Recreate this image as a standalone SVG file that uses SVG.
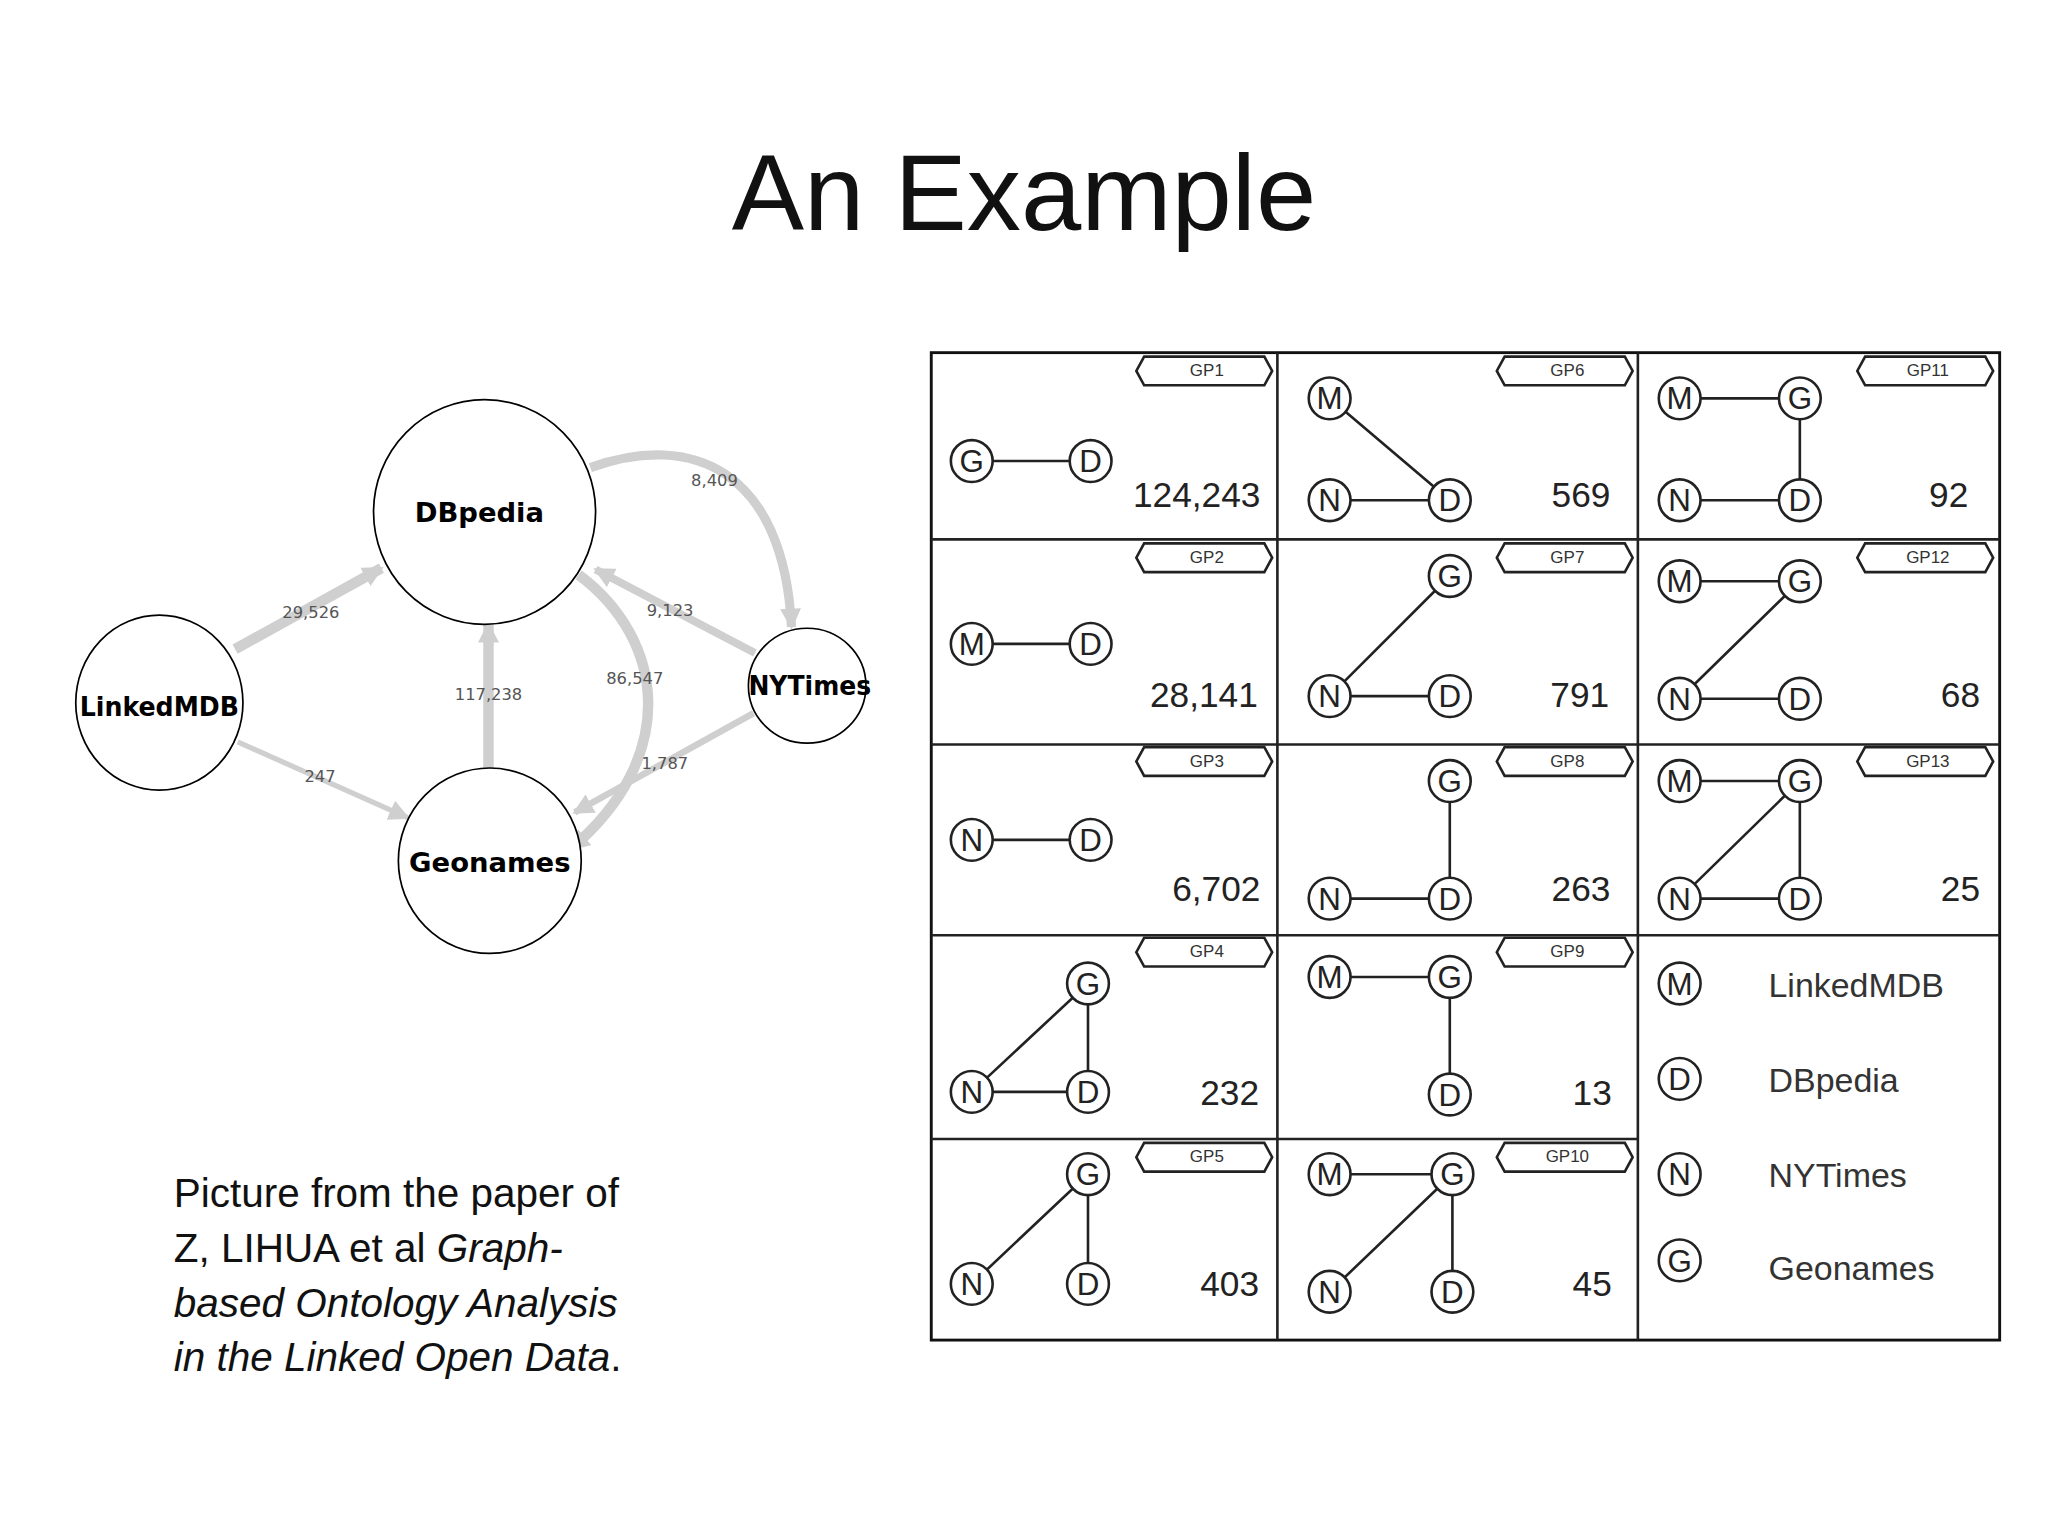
<svg xmlns="http://www.w3.org/2000/svg" width="2048" height="1536" viewBox="0 0 2048 1536">
<style>
.t{font-family:"Liberation Sans",Arial,sans-serif;fill:#111}
.title{font-size:83px;text-anchor:middle}
.cap{font-size:31px}
.gn{fill:#fff;stroke:#000;stroke-width:1.3}
.gl{font-family:"DejaVu Sans",sans-serif;font-weight:bold;font-size:21px;text-anchor:middle}
.el{font-family:"DejaVu Sans",sans-serif;font-size:12.5px;fill:#555;text-anchor:middle}
.ed{fill:none;stroke:#cfcfcf}
.cell{fill:#fff;stroke:#111;stroke-width:2.2}
.sn{fill:#fff;stroke:#222;stroke-width:2}
.sl{font-family:"Liberation Sans",Arial,sans-serif;font-size:24px;text-anchor:middle;fill:#222}
.ln{stroke:#222;stroke-width:2}
.num{font-family:"Liberation Sans",Arial,sans-serif;font-size:27px;text-anchor:end;fill:#222}
.tag{fill:#fff;stroke:#222;stroke-width:2}
.tagt{font-family:"Liberation Sans",Arial,sans-serif;font-size:13px;text-anchor:middle;fill:#333}
.lg{font-family:"Liberation Sans",Arial,sans-serif;font-size:26px;fill:#333}
</style>
<defs>
<marker id="ah" markerUnits="userSpaceOnUse" markerWidth="18" markerHeight="16" refX="14" refY="8" orient="auto"><path d="M0,0 L16,8 L0,16 Z" fill="#cfcfcf"/></marker>
<g id="M"><circle class="sn" r="16"/><text class="sl" y="8.5">M</text></g>
<g id="D"><circle class="sn" r="16"/><text class="sl" y="8.5">D</text></g>
<g id="N"><circle class="sn" r="16"/><text class="sl" y="8.5">N</text></g>
<g id="G"><circle class="sn" r="16"/><text class="sl" y="8.5">G</text></g>
<path id="tg" class="tag" d="M8,0 L100,0 L106,11 L100,22 L8,22 L2,11 Z"/>
</defs>
<rect width="2048" height="1536" fill="#fff"/>
<g transform="scale(1.30612)">
<text class="t title" x="784" y="176">An Example</text>
<g id="caption">
<text class="t cap" x="133" y="924">Picture from the paper of</text>
<text class="t cap" x="133" y="966">Z, LIHUA et al <tspan font-style="italic">Graph-</tspan></text>
<text class="t cap" x="133" y="1008" font-style="italic">based Ontology Analysis</text>
<text class="t cap" x="133" y="1050"><tspan font-style="italic">in the Linked Open Data</tspan>.</text>
</g>
<g id="connectors">
<path class="ed" stroke-width="8" d="M180,497 L292,435" marker-end="url(#ah)"/>
<path class="ed" stroke-width="4" d="M182,568 L312,626" marker-end="url(#ah)"/>
<path class="ed" stroke-width="8" d="M374,588 L374,478" marker-end="url(#ah)"/>
<path class="ed" stroke-width="8" d="M443,440 C510,490 520,580 437,650" marker-end="url(#ah)"/>
<path class="ed" stroke-width="6" d="M578,500 L456,436" marker-end="url(#ah)"/>
<path class="ed" stroke-width="5" d="M577,546 L440,622" marker-end="url(#ah)"/>
<path class="ed" stroke-width="7" d="M452,358 C530,330 600,360 606,480" marker-end="url(#ah)"/>
<text class="el" x="547" y="372">8,409</text>
<text class="el" x="238" y="473">29,526</text>
<text class="el" x="513" y="472">9,123</text>
<text class="el" x="374" y="536">117,238</text>
<text class="el" x="486" y="524">86,547</text>
<text class="el" x="245" y="599">247</text>
<text class="el" x="509" y="589">1,787</text>
</g>
<g id="dbpedia"><ellipse class="gn" cx="371" cy="392" rx="85" ry="86"/><text class="gl" x="367" y="400">DBpedia</text></g>
<g id="linkedmdb"><ellipse class="gn" cx="122" cy="538" rx="64" ry="67"/><text class="gl" x="122" y="548" textLength="122" lengthAdjust="spacingAndGlyphs">LinkedMDB</text></g>
<g id="geonames"><ellipse class="gn" cx="375" cy="659" rx="70" ry="71"/><text class="gl" x="375" y="668">Geonames</text></g>
<g id="nytimes"><ellipse class="gn" cx="618" cy="525" rx="45" ry="44"/><text class="gl" x="620" y="532" textLength="94" lengthAdjust="spacingAndGlyphs">NYTimes</text></g>

<g id="table">
<rect class="cell" x="713" y="270" width="818" height="756"/>
<path class="ln" stroke-width="2.2" d="M978,270 V1026 M1254,270 V1026 M713,413 H1531 M713,570 H1531 M713,716 H1531 M713,872 H1254"/>
</g>
<g id="gp1"><use href="#tg" x="868" y="273"/><text class="tagt" x="924" y="288">GP1</text>
<line class="ln" x1="744" y1="353" x2="835" y2="353"/><use href="#G" x="744" y="353"/><use href="#D" x="835" y="353"/><text class="num" x="965" y="388">124,243</text></g>
<g id="gp2"><use href="#tg" x="868" y="416"/><text class="tagt" x="924" y="431">GP2</text>
<line class="ln" x1="744" y1="493" x2="835" y2="493"/><use href="#M" x="744" y="493"/><use href="#D" x="835" y="493"/><text class="num" x="963" y="541">28,141</text></g>
<g id="gp3"><use href="#tg" x="868" y="572"/><text class="tagt" x="924" y="587">GP3</text>
<line class="ln" x1="744" y1="643" x2="835" y2="643"/><use href="#N" x="744" y="643"/><use href="#D" x="835" y="643"/><text class="num" x="965" y="690">6,702</text></g>
<g id="gp4"><use href="#tg" x="868" y="718"/><text class="tagt" x="924" y="733">GP4</text>
<path class="ln" fill="none" d="M744,836 L833,753 L833,836 Z"/><use href="#G" x="833" y="753"/><use href="#N" x="744" y="836"/><use href="#D" x="833" y="836"/><text class="num" x="964" y="846">232</text></g>
<g id="gp5"><use href="#tg" x="868" y="875"/><text class="tagt" x="924" y="890">GP5</text>
<path class="ln" fill="none" d="M744,983 L833,899 L833,983"/><use href="#G" x="833" y="899"/><use href="#N" x="744" y="983"/><use href="#D" x="833" y="983"/><text class="num" x="964" y="992">403</text></g>

<g id="gp6"><use href="#tg" x="1144" y="273"/><text class="tagt" x="1200" y="288">GP6</text>
<path class="ln" fill="none" d="M1018,305 L1110,383 L1018,383"/><use href="#M" x="1018" y="305"/><use href="#N" x="1018" y="383"/><use href="#D" x="1110" y="383"/><text class="num" x="1233" y="388">569</text></g>
<g id="gp7"><use href="#tg" x="1144" y="416"/><text class="tagt" x="1200" y="431">GP7</text>
<path class="ln" fill="none" d="M1110,441 L1018,533 L1110,533"/><use href="#G" x="1110" y="441"/><use href="#N" x="1018" y="533"/><use href="#D" x="1110" y="533"/><text class="num" x="1232" y="541">791</text></g>
<g id="gp8"><use href="#tg" x="1144" y="572"/><text class="tagt" x="1200" y="587">GP8</text>
<path class="ln" fill="none" d="M1110,598 L1110,688 L1018,688"/><use href="#G" x="1110" y="598"/><use href="#N" x="1018" y="688"/><use href="#D" x="1110" y="688"/><text class="num" x="1233" y="690">263</text></g>
<g id="gp9"><use href="#tg" x="1144" y="718"/><text class="tagt" x="1200" y="733">GP9</text>
<path class="ln" fill="none" d="M1018,748 L1110,748 L1110,838"/><use href="#M" x="1018" y="748"/><use href="#G" x="1110" y="748"/><use href="#D" x="1110" y="838"/><text class="num" x="1234" y="846">13</text></g>
<g id="gp10"><use href="#tg" x="1144" y="875"/><text class="tagt" x="1200" y="890">GP10</text>
<path class="ln" fill="none" d="M1018,899 L1112,899 L1112,989 M1018,989 L1112,899"/><use href="#M" x="1018" y="899"/><use href="#G" x="1112" y="899"/><use href="#N" x="1018" y="989"/><use href="#D" x="1112" y="989"/><text class="num" x="1234" y="992">45</text></g>

<g id="gp11"><use href="#tg" x="1420" y="273"/><text class="tagt" x="1476" y="288">GP11</text>
<path class="ln" fill="none" d="M1286,305 L1378,305 L1378,383 L1286,383"/><use href="#M" x="1286" y="305"/><use href="#G" x="1378" y="305"/><use href="#N" x="1286" y="383"/><use href="#D" x="1378" y="383"/><text class="num" x="1507" y="388">92</text></g>
<g id="gp12"><use href="#tg" x="1420" y="416"/><text class="tagt" x="1476" y="431">GP12</text>
<path class="ln" fill="none" d="M1286,445 L1378,445 L1286,535 L1378,535"/><use href="#M" x="1286" y="445"/><use href="#G" x="1378" y="445"/><use href="#N" x="1286" y="535"/><use href="#D" x="1378" y="535"/><text class="num" x="1516" y="541">68</text></g>
<g id="gp13"><use href="#tg" x="1420" y="572"/><text class="tagt" x="1476" y="587">GP13</text>
<path class="ln" fill="none" d="M1286,598 L1378,598 L1286,688 L1378,688 L1378,598"/><use href="#M" x="1286" y="598"/><use href="#G" x="1378" y="598"/><use href="#N" x="1286" y="688"/><use href="#D" x="1378" y="688"/><text class="num" x="1516" y="690">25</text></g>
<g id="legend">
<use href="#M" x="1286" y="753"/><text class="lg" x="1354" y="763">LinkedMDB</text>
<use href="#D" x="1286" y="826"/><text class="lg" x="1354" y="836">DBpedia</text>
<use href="#N" x="1286" y="899"/><text class="lg" x="1354" y="909">NYTimes</text>
<use href="#G" x="1286" y="965"/><text class="lg" x="1354" y="980">Geonames</text>
</g>
</g>
</svg>
